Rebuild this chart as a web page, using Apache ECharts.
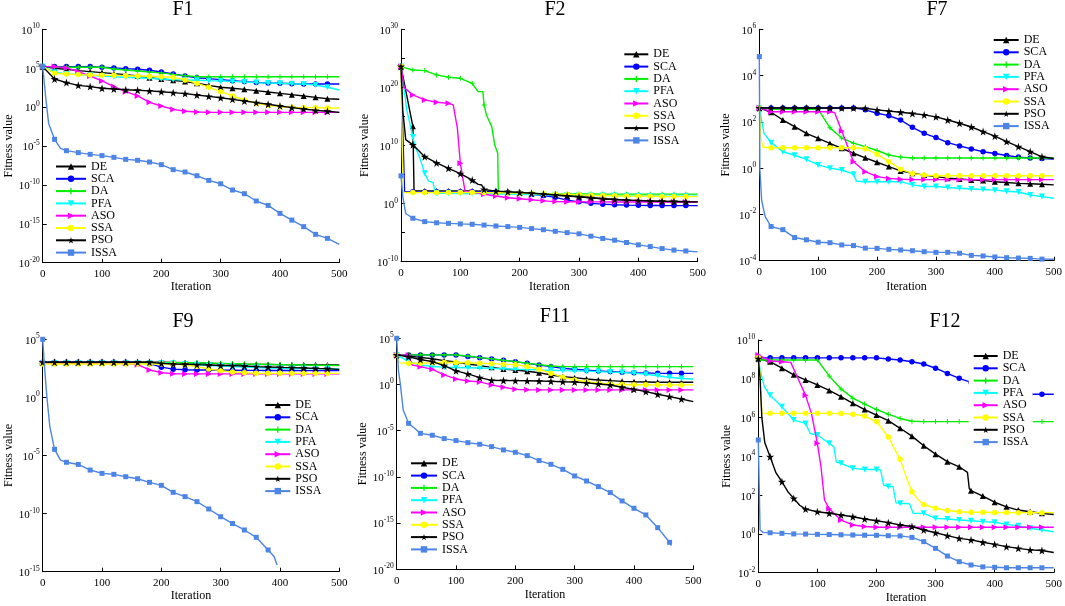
<!DOCTYPE html>
<html><head><meta charset="utf-8">
<script src="https://cdn.jsdelivr.net/npm/echarts@6/dist/echarts.min.js"></script>
<style>html,body{margin:0;padding:0;background:#fff}#c{width:1065px;height:606px}</style>
</head><body><div id="c"></div>
<script>
// ---------------- DATA ----------------
const ITER = [0,20,40,60,80,100,120,140,160,180,200,220,240,260,280,300,320,340,360,380,400,420,440,460,480,500];
const NAMES = ['DE','SCA','DA','PFA','ASO','SSA','PSO','ISSA'];
const TITLES = ['F1','F2','F7','F9','F11','F12'];
const X_TICKS = [0,100,200,300,400,500];
// y tick exponents (labels 10^k) per panel
const F1_YEXP = [-20,-15,-10,-5,0,5,10];
const F2_YEXP = [-10,0,10,20,30];
const F7_YEXP = [-4,-2,0,2,4,6];
const F9_YEXP = [-15,-10,-5,0,5];
const F11_YEXP = [-20,-15,-10,-5,0,5];
const F12_YEXP = [-2,0,2,4,6,8,10];

// F1
const F1_DE = [1.6e5,9.5e4,7.2e4,4.9e4,3.6e4,2.7e4,2e4,1.5e4,1e4,6e3,4.1e3,2.8e3,1.9e3,1.15e3,6.3e2,3.5e2,2.6e2,1.9e2,1.3e2,87,59,40,27,18,12,10];
const F1_SCA = [1.6e5,1.6e5,1.6e5,1.6e5,1.6e5,1.3e5,1.1e5,8.7e4,7.2e4,5.4e4,3.2e4,1.8e4,1e4,6e3,4.6e3,3.4e3,2.5e3,1.9e3,1.5e3,1.26e3,1.15e3,1.02e3,9.3e2,9.3e2,9.3e2,9.3e2];
const F1_DA = [1.6e5,1.4e5,1.3e5,1.3e5,1.3e5,1.3e5,8e4,5.9e4,4.4e4,3.2e4,2.5e4,1.6e4,1.1e4,8.1e3,8.1e3,8.1e3,8.1e3,8.1e3,8.1e3,8.1e3,8.1e3,8.1e3,8.1e3,8.1e3,8.1e3,8.1e3];
const F1_PFA = [1.6e5,3e4,1.8e4,1.5e4,1.2e4,1e4,8.1e3,6.8e3,6e3,5e3,4.1e3,3.4e3,3.1e3,2.8e3,2.5e3,2.3e3,2e3,1.7e3,1.4e3,1.26e3,1.15e3,1e3,9.3e2,6.9e2,3.5e2,1.6e2];
const F1_ASO = [1.6e5,1.6e5,1.1e5,3.6e4,1e4,2.3e3,4.3e2,95,27,4.1,1.4,0.51,0.29,0.23,0.21,0.21,0.21,0.21,0.21,0.21,0.21,0.21,0.21,0.21,0.21,0.21];
const F1_SSA = [1.6e5,2.2e4,1.8e4,1.5e4,1.35e4,1.2e4,1.2e4,1.1e4,1e4,9.1e3,8.1e3,6.8e3,3.1e3,1.15e3,3.5e2,95,27,8.1,3,1.7,1.15,0.93,0.85,0.85,0.76,0.76];
const F1_PSO = [1.6e5,4.1e3,1.4e3,6.3e2,4.3e2,2.6e2,2.1e2,1.7e2,1.45e2,1.2e2,95,72,54,36,24,16,10,6,3.7,2.3,1.4,0.85,0.58,0.38,0.29,0.21];
const F1_ISSA = [[0,1.6e5],[5,20],[10,8e-3],[20,7.2e-5],[30,5e-6],[40,2.5e-6],[60,1.4e-6],[80,8.5e-7],[100,5.8e-7],[120,3.5e-7],[140,1.9e-7],[160,1.45e-7],[180,8.7e-8],[200,4e-8],[220,9.1e-9],[240,4.6e-9],[260,1.5e-9],[280,3.8e-10],[300,1.4e-10],[320,2.2e-11],[340,7.4e-12],[360,8.5e-13],[380,2.3e-13],[400,2.2e-14],[420,3e-15],[440,4.3e-16],[460,4.4e-17],[480,1.35e-17],[500,2.3e-18]];

// F2
const F2_DE = [[0,4e23],[20,2e13],[22,150],[40,150],[60,150],[80,150],[100,150],[120,150],[140,140],[160,120],[180,95],[200,75],[220,55],[240,40],[260,28],[280,20],[300,15],[320,10],[340,7],[360,5],[380,4],[400,3.2],[420,2.8],[440,2.5],[460,2.3],[480,2.1],[500,2.0]];
const F2_SCA = [[0,4e23],[6,110],[20,110],[40,110],[60,110],[80,110],[100,110],[120,110],[140,105],[160,100],[180,85],[200,65],[220,40],[240,25],[260,12],[280,4],[300,2],[320,1.1],[340,0.8],[360,0.65],[380,0.55],[400,0.5],[420,0.48],[440,0.46],[460,0.45],[480,0.45],[500,0.45]];
const F2_DA = [[0,3.7e23],[20,1e23],[40,7.8e22],[60,1.4e22],[80,5.5e21],[100,3.7e21],[120,5e20],[130,1.9e19],[138,1.9e19],[140,9.5e16],[144,1.8e15],[153,1.8e13],[158,1.2e10],[163,4.6e8],[164,110],[180,80],[200,60],[220,55],[240,50],[260,48],[280,46],[300,45],[320,44],[340,43],[360,43],[380,42],[400,42],[420,42],[440,42],[460,42],[480,42],[500,42]];
const F2_PFA = [[0,4e23],[10,1e16],[20,3e11],[24,6e9],[32,6e7],[40,1.6e5],[46,8e3],[54,4e3],[58,60],[60,60],[80,58],[100,56],[120,55],[140,52],[160,48],[180,45],[200,40],[220,37],[240,34],[260,32],[280,30],[300,28],[320,26],[340,25],[360,24],[380,22],[400,21],[420,20],[440,19],[460,19],[480,18],[500,18]];
const F2_ASO = [[0,4e23],[5,1e20],[20,5e18],[40,7e17],[60,2.8e17],[80,1.8e17],[88,1e17],[95,1e13],[100,9e6],[108,120],[120,100],[140,40],[160,20],[180,10],[200,7],[220,4.5],[240,3],[260,2.2],[280,2.1],[300,2.0],[320,2.0],[340,2.0],[360,1.9],[380,1.9],[400,1.9],[420,1.9],[440,1.8],[460,1.8],[480,1.8],[500,1.8]];
const F2_SSA = [[0,4e23],[2,5e9],[4,80],[20,80],[40,80],[60,80],[80,80],[100,80],[120,80],[140,78],[160,75],[180,70],[200,62],[220,55],[240,48],[260,42],[280,36],[300,32],[320,28],[340,25],[360,22],[380,20],[400,19],[420,18],[440,17],[460,16],[480,16],[500,16]];
const F2_PSO = [[0,4e23],[3,1e16],[8,1e11],[20,1.3e10],[40,1.2e8],[60,1e7],[80,1.2e6],[100,1.4e5],[120,1.1e4],[130,2e3],[136,1.6e3],[140,2.8e2],[160,1.4e2],[180,1.1e2],[200,80],[220,60],[240,45],[260,32],[280,22],[300,15],[320,10],[340,7],[360,5],[380,4],[400,3.2],[420,2.8],[440,2.5],[460,2.3],[480,2.1],[500,2.0]];
const F2_ISSA = [[0,6e4],[3,16],[8,0.02],[20,3e-3],[40,8e-4],[60,5e-4],[80,4e-4],[100,3.2e-4],[120,2.8e-4],[140,2e-4],[160,1.4e-4],[180,1.1e-4],[200,8e-5],[220,5e-5],[240,3.2e-5],[260,1.7e-5],[280,1e-5],[300,6.3e-6],[320,2.5e-6],[340,1e-6],[360,5e-7],[380,2e-7],[400,8e-8],[420,4e-8],[440,1.8e-8],[460,1e-8],[480,7e-9],[500,5e-9]];

// F7
const F7_DE = [400,260,120,62,32,19.5,11.7,7.2,4.4,2.8,1.8,1.17,0.76,0.6,0.5,0.43,0.37,0.34,0.31,0.29,0.26,0.24,0.22,0.21,0.2,0.19];
const F7_SCA = [400,400,400,400,400,400,400,400,400,330,235,185,120,58,32,21,12.6,9.1,6.8,5.1,4.3,3.5,3.0,2.75,2.6,2.5];
const F7_DA = [400,350,350,350,350,350,55,20,12,8.5,5.8,3.7,3.0,2.75,2.75,2.75,2.75,2.75,2.75,2.75,2.75,2.75,2.75,2.75,2.75,2.75];
const F7_PFA = [[0,400],[8,32],[20,12.6],[40,5.1],[60,3.6],[80,2.4],[100,1.38],[120,1.0],[140,0.83],[160,0.55],[165,0.27],[180,0.26],[200,0.26],[220,0.26],[240,0.26],[260,0.19],[280,0.16],[300,0.16],[320,0.145],[340,0.135],[360,0.126],[380,0.12],[400,0.112],[420,0.1],[440,0.093],[460,0.069],[480,0.059],[500,0.05]];
const F7_ASO = [[0,400],[20,275],[40,275],[60,275],[80,275],[100,275],[120,275],[128,250],[140,40],[160,1.9],[180,0.7],[200,0.43],[220,0.36],[240,0.33],[260,0.32],[280,0.32],[300,0.32],[320,0.32],[340,0.32],[360,0.32],[380,0.32],[400,0.32],[420,0.32],[440,0.32],[460,0.32],[480,0.32],[500,0.32]];
const F7_SSA = [[0,400],[3,20],[6,8],[20,7.6],[40,7.6],[60,7.6],[80,7.6],[100,7.6],[120,7.6],[140,7.6],[160,7.6],[180,6.9],[200,4],[220,1.9],[240,0.9],[260,0.58],[280,0.5],[300,0.47],[320,0.47],[340,0.47],[360,0.47],[380,0.47],[400,0.47],[420,0.47],[440,0.47],[460,0.47],[480,0.47],[500,0.47]];
const F7_PSO = [400,400,400,400,400,400,400,400,400,385,330,290,260,230,200,165,120,87,60,38,24,14,8.5,5.2,3.1,2.6];
const F7_ISSA = [[0,6.6e4],[1,0.9],[4,0.04],[10,8e-3],[20,3e-3],[40,2.2e-3],[60,1e-3],[80,8e-4],[100,6.3e-4],[120,6e-4],[140,4.8e-4],[160,4.5e-4],[180,3.5e-4],[200,3.4e-4],[220,3.1e-4],[240,2.9e-4],[260,2.7e-4],[280,2.45e-4],[300,2.3e-4],[320,2.3e-4],[340,2.1e-4],[360,1.7e-4],[380,1.6e-4],[400,1.45e-4],[420,1.35e-4],[440,1.3e-4],[460,1.26e-4],[480,1.17e-4],[500,1.15e-4]];

// F9
const F9_DE = [1050,1050,1050,1050,1050,1050,1050,1050,1050,1050,1050,1000,950,900,850,800,760,720,700,680,660,650,640,630,620,610];
const F9_SCA = [1050,1050,1050,1050,1050,1050,1050,1050,1000,800,400,270,240,230,225,220,215,212,210,208,206,204,202,201,200,200];
const F9_DA = [1050,950,950,950,950,950,950,950,950,950,950,950,950,950,900,850,800,750,720,690,660,640,610,590,570,560];
const F9_PFA = [900,900,900,900,900,900,900,900,900,900,900,850,750,650,560,500,450,400,370,340,320,310,300,290,285,280];
const F9_ASO = [850,850,850,850,850,850,850,850,650,230,135,110,105,105,105,105,105,105,105,105,105,105,105,105,105,105];
const F9_SSA = [750,750,750,750,750,750,750,750,750,750,750,750,650,450,280,200,155,135,117,117,117,117,117,117,117,117];
const F9_PSO = [1050,1050,1050,1050,1050,1050,1050,1050,1050,1050,850,750,710,660,620,560,540,500,445,415,380,365,340,315,295,260];
const F9_ISSA = [[0,1e5],[3,450],[7,1.2],[12,3e-3],[20,3.4e-5],[30,4e-6],[40,2.6e-6],[60,1.7e-6],[80,5.6e-7],[100,2.9e-7],[120,2.4e-7],[140,1.5e-7],[160,1e-7],[180,4.9e-8],[200,2.7e-8],[220,6.8e-9],[240,2.9e-9],[260,1.07e-9],[280,2.5e-10],[300,5.4e-11],[320,1.4e-11],[340,3.9e-12],[360,9.1e-13],[380,7.4e-14],[390,2e-14],[395,3.7e-15]];

// F11
const F11_DE = [1600,1230,870,620,380,275,165,110,72,48,37,27,19,10.7,7.1,5.5,4,3.1,2.6,2.2,2.0,1.86,1.74,1.74,1.74,1.74];
const F11_SCA = [1600,1600,1600,1600,1600,1600,1050,800,575,415,295,195,130,85,56,44,35,29,25,21,19,18,16,16,16,16];
const F11_DA = [1600,1600,1600,1600,1600,1600,1200,800,600,420,300,200,140,100,85,85,85,85,85,85,85,85,85,85,85,85];
const F11_PFA = [1600,300,130,90,75,70,65,60,55,50,45,42,38,35,32,30,28,25,22,20,17,13,9,6,4.5,4];
const F11_ASO = [[0,1600],[20,1500],[26,130],[40,85],[60,44],[80,11],[100,4],[120,2.4],[140,1.9],[160,0.9],[180,0.5],[200,0.3],[220,0.27],[240,0.26],[260,0.26],[280,0.26],[300,0.26],[320,0.26],[340,0.26],[360,0.26],[380,0.26],[400,0.26],[420,0.26],[440,0.26],[460,0.26],[480,0.26],[500,0.26]];
const F11_SSA = [[0,1600],[5,220],[20,200],[40,200],[60,220],[80,240],[100,240],[120,230],[140,200],[160,180],[180,160],[200,140],[220,90],[240,45],[260,17],[280,6],[300,3.1],[320,2],[340,1.35],[360,1.1],[380,1.0],[400,0.95],[420,0.93],[440,0.92],[460,0.9],[480,0.9],[500,0.9]];
const F11_PSO = [1600,1000,500,300,110,30,14,5.5,2.8,2.7,2.6,2.5,2.4,2.2,2.0,1.86,1.48,1.15,0.89,0.5,0.3,0.17,0.087,0.049,0.027,0.014];
const F11_ISSA = [[0,1e5],[3,30],[6,1.3],[11,1.7e-3],[20,6.3e-5],[40,5.2e-6],[60,3.2e-6],[80,1.4e-6],[100,8.5e-7],[120,5.1e-7],[140,3.4e-7],[160,1.9e-7],[180,8.3e-8],[200,4.6e-8],[220,2e-8],[240,5.8e-9],[260,2.3e-9],[280,6.6e-10],[300,1.26e-10],[320,3.6e-11],[340,8.9e-12],[360,2e-12],[380,2.5e-13],[400,4e-14],[420,7.6e-15],[440,3.2e-16],[450,5.2e-17],[460,8.3e-18],[463,3.6e-18]];

// F12
const F12_DE = [[0,1.1e9],[20,7.6e8],[40,3.5e8],[60,1.6e8],[80,8.7e7],[100,4.8e7],[120,2.5e7],[140,1.2e7],[160,5.4e6],[180,2.6e6],[200,1.35e6],[220,6.9e5],[240,2.8e5],[260,1.1e5],[280,3.5e4],[300,1.3e4],[320,5.3e3],[340,2.9e3],[354,1.5e3],[357,2.2e2],[360,1.7e2],[380,90],[400,43],[420,25],[440,17],[460,14],[480,11.6],[500,10]];
const F12_SCA = [1.2e9,1.2e9,1.2e9,1.2e9,1.2e9,1.2e9,1.2e9,1.2e9,1.2e9,1.2e9,1.2e9,1.05e9,9.3e8,7.6e8,5.8e8,3.5e8,1.9e8,1.05e8,6.5e7,4e7,2.8e7,2.1e7,1.8e7,1.6e7,1.6e7,1.6e7];
const F12_DA = [9.3e8,9.3e8,9.3e8,9.3e8,9.3e8,9.3e8,1.4e8,3e7,1e7,5e6,2.6e6,1.5e6,9e5,6.5e5,6.2e5,6.2e5,6.2e5,6.2e5,6.2e5,6.2e5,6.2e5,6.2e5,6.2e5,6.2e5,6.2e5,6.2e5];
const F12_PFA = [[0,1.2e9],[3,3e8],[10,4e7],[20,1.4e7],[40,3.6e6],[60,7.4e5],[80,5e5],[88,1.5e5],[100,1.26e5],[115,6e4],[120,4.7e4],[128,3e4],[132,5e3],[140,4.4e3],[160,2.4e3],[180,2.1e3],[200,2.1e3],[207,2e3],[212,3.3e2],[220,2.8e2],[228,2.8e2],[233,40],[240,38],[256,36],[262,11.5],[280,11.5],[300,6.3],[320,5.9],[340,5.2],[360,4.8],[380,4.3],[400,4],[420,3.1],[440,2.6],[460,1.95],[480,1.6],[500,1.3]];
const F12_ASO = [[0,1.7e9],[20,8.3e8],[40,7.6e8],[55,7e8],[63,2e8],[80,1.4e7],[90,1.6e6],[100,4.7e4],[106,3e3],[112,56],[120,20],[140,5.2],[160,2.9],[180,2.4],[200,2.2],[220,2.2],[240,2.2],[260,2.2],[280,2.2],[300,2.2],[320,2.2],[340,2.2],[360,2.2],[380,2.2],[400,2.2],[420,2.2],[440,2.2],[460,2.2],[480,2.2],[500,2.2]];
const F12_SSA = [[0,1.2e9],[3,2e8],[6,1.7e6],[20,1.65e6],[40,1.65e6],[60,1.65e6],[80,1.65e6],[100,1.65e6],[120,1.65e6],[140,1.6e6],[160,1.5e6],[180,1.2e6],[200,6.2e5],[220,1e5],[240,7e3],[250,9e2],[260,1.5e2],[270,60],[280,33],[300,21],[320,16],[340,14],[360,13],[380,13],[400,12.8],[420,12.6],[440,12.5],[460,12.5],[480,12.5],[500,12.5]];
const F12_PSO = [[0,1.1e9],[3,1e8],[6,1e6],[11,5e4],[20,9.5e3],[30,1.4e3],[40,4.9e2],[50,1.5e2],[60,68],[70,30],[80,19],[100,14],[120,11.6],[140,9.4],[160,7.7],[180,5.9],[200,4.8],[220,3.8],[240,2.9],[260,2.4],[280,1.6],[300,1.15],[320,0.81],[340,0.59],[360,0.49],[380,0.37],[400,0.29],[420,0.22],[440,0.18],[460,0.15],[480,0.14],[500,0.11]];
const F12_ISSA = [[0,7e4],[3,1.6],[8,1.2],[20,1.15],[40,1.07],[60,1.0],[80,0.98],[100,0.95],[120,0.93],[140,0.9],[160,0.88],[180,0.86],[200,0.85],[220,0.81],[240,0.79],[260,0.66],[280,0.4],[300,0.18],[320,0.072],[340,0.037],[360,0.025],[380,0.02],[400,0.019],[420,0.018],[440,0.018],[460,0.018],[480,0.018],[500,0.018]];

const PANEL_DATA = [
  [F1_DE,F1_SCA,F1_DA,F1_PFA,F1_ASO,F1_SSA,F1_PSO,F1_ISSA],
  [F2_DE,F2_SCA,F2_DA,F2_PFA,F2_ASO,F2_SSA,F2_PSO,F2_ISSA],
  [F7_DE,F7_SCA,F7_DA,F7_PFA,F7_ASO,F7_SSA,F7_PSO,F7_ISSA],
  [F9_DE,F9_SCA,F9_DA,F9_PFA,F9_ASO,F9_SSA,F9_PSO,F9_ISSA],
  [F11_DE,F11_SCA,F11_DA,F11_PFA,F11_ASO,F11_SSA,F11_PSO,F11_ISSA],
  [F12_DE,F12_SCA,F12_DA,F12_PFA,F12_ASO,F12_SSA,F12_PSO,F12_ISSA]
];
const PANEL_YEXP = [F1_YEXP,F2_YEXP,F7_YEXP,F9_YEXP,F11_YEXP,F12_YEXP];

// ---------------- LAYOUT / STYLE ----------------
const FONT = "'Liberation Serif','Times New Roman',serif";
const STAR = 'path://M50,0 L61,35 L98,35 L68,57 L79,91 L50,70 L21,91 L32,57 L2,35 L39,35 Z';
const PLUS = 'path://M4,0 L6,0 L6,4 L10,4 L10,6 L6,6 L6,10 L4,10 L4,6 L0,6 L0,4 L4,4 Z';
const STYLE = {
  DE:   {color:'#000000', symbol:'triangle', rot:0,   size:6},
  SCA:  {color:'#0000ff', symbol:'circle',   rot:0,   size:5.5},
  DA:   {color:'#00ee00', symbol:PLUS,       rot:0,   size:5},
  PFA:  {color:'#00ffff', symbol:'triangle', rot:180, size:6},
  ASO:  {color:'#ff00ff', symbol:'triangle', rot:-90, size:6},
  SSA:  {color:'#ffff00', symbol:'circle',   rot:0,   size:5.5},
  PSO:  {color:'#000000', symbol:STAR,       rot:0,   size:8},
  ISSA: {color:'#4d85e6', symbol:'rect',     rot:0,   size:5}
};
const LAYOUT = [
  {grid:{left:42.7, top:29.3, width:296.6, height:233.4}, title:[183,10],  yGap:27, xGap:18.5, step:5,  legend:{left:55,    top:160.5, itemWidth:30}},
  {grid:{left:401,  top:29.3, width:296.7, height:232.4}, title:[555,10],  yGap:30, xGap:19.5, step:5,  legend:{left:623.3, top:48.3,  itemWidth:24}},
  {grid:{left:759.3,top:29.3, width:295.7, height:231.4}, title:[937,10],  yGap:27, xGap:20.5, step:2,  legend:{left:992.7, top:34,    itemWidth:25}},
  {grid:{left:42.7, top:339.3,width:296.6, height:232.4}, title:[183,321.7], yGap:27, xGap:18.5, step:5, legend:{left:264.3, top:399, itemWidth:25}},
  {grid:{left:396.7,top:338.3,width:296.6, height:231},   title:[555,316.7], yGap:26, xGap:19.5, step:5, legend:{left:410,   top:457.3, itemWidth:26}},
  {grid:{left:758.3,top:340,  width:296.7, height:232.7}, title:[945,321.7], yGap:24, xGap:19.5, step:2, legend:{left:968.7, top:347, itemWidth:24, padding:[3,4,3,4]}}
];

function pts(a){ return Array.isArray(a[0]) ? a : a.map((y,i)=>[ITER[i], y]); }
function logPts(a){ return pts(a).map(p=>[p[0], Math.log10(p[1])]); }

const grids=[], xAxes=[], yAxes=[], series=[], legends=[], graphics=[];
LAYOUT.forEach((L,k)=>{
  const yexp = PANEL_YEXP[k];
  const yMin = yexp[0], yMax = yexp[yexp.length-1];
  grids.push(Object.assign({containLabel:false}, L.grid));
  xAxes.push({
    type:'value', gridIndex:k, min:X_TICKS[0], max:X_TICKS[X_TICKS.length-1], interval:100,
    axisLine:{show:true, onZero:false, lineStyle:{color:'#000', width:1}},
    axisTick:{show:true, inside:true, length:4, lineStyle:{color:'#000'}},
    axisLabel:{color:'#000', fontFamily:FONT, fontSize:11, margin:6},
    splitLine:{show:false},
    name:'Iteration', nameLocation:'middle', nameGap:L.xGap,
    nameTextStyle:{color:'#000', fontFamily:FONT, fontSize:12}
  });
  const labelStep = yexp[1]-yexp[0];
  yAxes.push({
    type:'value', gridIndex:k, min:yMin, max:yMax, interval:L.step,
    axisLine:{show:true, onZero:false, lineStyle:{color:'#000', width:1}},
    axisTick:{show:true, inside:true, length:4, lineStyle:{color:'#000'}},
    splitLine:{show:false},
    axisLabel:{
      margin:3,
      formatter:(v)=> (Math.round(v-yMin) % labelStep === 0) ? '{b|10}{s|' + v + '}' : '',
      rich:{
        b:{fontFamily:FONT, fontSize:11, color:'#000', lineHeight:14, verticalAlign:'bottom'},
        s:{fontFamily:FONT, fontSize:7.5, color:'#000', lineHeight:8, verticalAlign:'top'}
      }
    },
    name:'Fitness value', nameLocation:'middle', nameGap:L.yGap,
    nameTextStyle:{color:'#000', fontFamily:FONT, fontSize:12}
  });
  PANEL_DATA[k].forEach((arr,j)=>{
    const nm = NAMES[j], st = STYLE[nm];
    series.push({
      type:'line', name:nm, xAxisIndex:k, yAxisIndex:k,
      data: logPts(arr),
      symbol: st.symbol, symbolRotate: st.rot,
      symbolSize: (v)=> (v[0] % 20 === 0 && v[0] < 500) ? st.size : 0,
      showSymbol:true,
      lineStyle:{color:st.color, width:1.4},
      itemStyle:{color:st.color},
      emphasis:{disabled:true},
      animation:false,
      z: 2 + j*0.01
    });
  });
  legends.push({
    data: NAMES, orient:'vertical', left:L.legend.left, top:L.legend.top,
    itemWidth:L.legend.itemWidth, itemHeight:8, itemGap:0.3,
    padding: L.legend.padding || 0,
    backgroundColor:'#fff', z:20, selectedMode:false,
    textStyle:{fontFamily:FONT, fontSize:12, color:'#000', lineHeight:12}
  });
  graphics.push({
    type:'text', x:L.title[0], y:L.title[1], z:30,
    style:{text:TITLES[k], fill:'#000', font:'20px ' + FONT,
      fontFamily:FONT, fontSize:20,
      textAlign:'center', align:'center', textVerticalAlign:'middle', verticalAlign:'middle'}
  });
});

const chart = echarts.init(document.getElementById('c'), null, {renderer:'canvas'});
chart.setOption({
  animation:false,
  backgroundColor:'#fff',
  grid:grids, xAxis:xAxes, yAxis:yAxes, series:series, legend:legends,
  graphic:graphics
});
</script></body></html>
